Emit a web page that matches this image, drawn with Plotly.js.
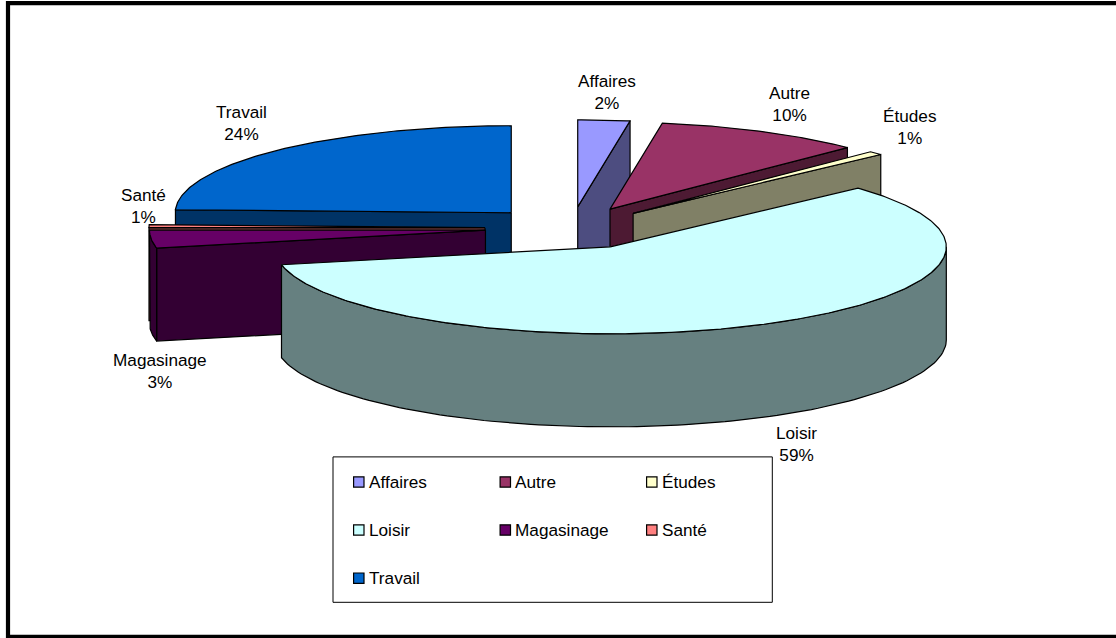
<!DOCTYPE html>
<html>
<head>
<meta charset="utf-8">
<style>html,body{margin:0;padding:0;background:#fff;overflow:hidden}#chart{width:1116px;height:638px}</style>
<script src="https://cdn.plot.ly/plotly-3.0.1.min.js"></script>
</head>
<body>
<div id="chart"></div>
<script>
// Data (share of total, in %)
var categories = ['Affaires', 'Autre', 'Études', 'Loisir', 'Magasinage', 'Santé', 'Travail'];
var shares = [2.49, 10, 0.7, 58.51, 3.3, 0.55, 24.45];

// Styles
var topColors = ['#9999FF', '#993366', '#FFFFCC', '#CCFFFF', '#660066', '#FF8080', '#0066CC'];
var wallColors = ['#4D4D80', '#4D1A33', '#808066', '#668080', '#330033', '#804040', '#003366'];

// Back-to-front painting order
var paintOrder = [6, 5, 4, 0, 1, 2, 3];

// Pie projection (axis units = pixels)
var pie = {cx: 571, cy: 228, rx: 336, ry: 87, depth: 93, explodeX: 86, explodeY: 21.2};

// Data label placement (centre of the two text lines), same order as categories
var labelX = [606.7, 789.3, 910, 796, 160, 143.3, 241.7];
var labelY = [92, 103.7, 126.7, 444, 371, 205.5, 122.8];

// Legend layout
var legendBox = {x0: 333, y0: 456.9, x1: 772.3, y1: 602.3};
var legendColX = [358.8, 505.3, 651.8];
var legendRowY = [482, 530, 578.2];
var legendTextGap = 8;
var FONT = 'Liberation Sans, Arial, sans-serif';

function rad(d) { return d * Math.PI / 180; }
function project(apex, deg, drop) {
  return [apex[0] + pie.rx * Math.sin(rad(deg)), apex[1] - pie.ry * Math.cos(rad(deg)) + (drop || 0)];
}
function face(pts, fill, name) {
  var xs = pts.map(function (p) { return p[0]; });
  var ys = pts.map(function (p) { return p[1]; });
  xs.push(xs[0]); ys.push(ys[0]);
  return {
    type: 'scatter', mode: 'lines', x: xs, y: ys, fill: 'toself', fillcolor: fill,
    line: {color: '#000', width: 1.2, shape: 'linear'}, hoverinfo: 'text', text: name,
    showlegend: false
  };
}

var total = shares.reduce(function (a, b) { return a + b; }, 0);
var startAngles = [], acc = 0;
shares.forEach(function (v) { startAngles.push(acc / total * 360); acc += v; });

var traces = [];
paintOrder.forEach(function (i) {
  var a0 = startAngles[i];
  var a1 = a0 + shares[i] / total * 360;
  var mid = (a0 + a1) / 2;
  var apex = [pie.cx + pie.explodeX * Math.sin(rad(mid)), pie.cy - pie.explodeY * Math.cos(rad(mid))];
  var name = categories[i];

  // Radial cut faces, only when turned to the viewer
  [[a0, Math.sin(rad(a0)) < -1e-6], [a1, Math.sin(rad(a1)) > 1e-6]].forEach(function (e) {
    if (!e[1]) return;
    var rim = project(apex, e[0]);
    traces.push(face([apex, rim, [rim[0], rim[1] + pie.depth], [apex[0], apex[1] + pie.depth]], wallColors[i], name));
  });

  // Outer curved wall (front half of the rim)
  var w0 = Math.max(a0, 90), w1 = Math.min(a1, 270);
  if (w1 > w0) {
    var upper = [], lower = [];
    for (var k = 0; k <= 120; k++) {
      var t = w0 + (w1 - w0) * k / 120;
      upper.push(project(apex, t));
      lower.unshift(project(apex, t, pie.depth));
    }
    traces.push(face(upper.concat(lower), wallColors[i], name));
  }

  // Top face
  var top = [apex], n = Math.max(4, Math.ceil((a1 - a0) * 1.5));
  for (var m = 0; m <= n; m++) top.push(project(apex, a0 + (a1 - a0) * m / n));
  traces.push(face(top, topColors[i], name));
});

// Legend swatches
var swatchX = [], swatchY = [];
categories.forEach(function (c, i) {
  swatchX.push(legendColX[i % 3]);
  swatchY.push(legendRowY[Math.floor(i / 3)]);
});
traces.push({
  type: 'scatter', mode: 'markers', x: swatchX, y: swatchY, showlegend: false, hoverinfo: 'skip',
  marker: {symbol: 'square', size: 10.4, color: topColors, line: {color: '#000', width: 1.2}}
});

var annotations = [];
categories.forEach(function (c, i) {
  annotations.push({
    xref: 'x', yref: 'y', x: labelX[i], y: labelY[i], showarrow: false,
    xanchor: 'center', yanchor: 'middle', align: 'center',
    text: c + '<br>' + Math.round(shares[i] / total * 100) + '%',
    font: {family: FONT, size: 17.2, color: '#000'}
  });
  annotations.push({
    xref: 'x', yref: 'y', x: swatchX[i] + legendTextGap, y: swatchY[i], showarrow: false,
    xanchor: 'left', yanchor: 'middle', xshift: 0, text: c,
    font: {family: FONT, size: 17.2, color: '#000'}
  });
});

var layout = {
  width: 1116, height: 638,
  margin: {l: 0, r: 0, t: 0, b: 0, pad: 0},
  paper_bgcolor: '#fff', plot_bgcolor: '#fff',
  showlegend: false,
  xaxis: {range: [0, 1116], visible: false, fixedrange: true},
  yaxis: {range: [638, 0], visible: false, fixedrange: true},
  annotations: annotations,
  shapes: [
    {type: 'rect', xref: 'x', yref: 'y', x0: 8, y0: 3.2, x1: 1130, y1: 636.8, layer: 'below',
     line: {color: '#000', width: 4.2}, fillcolor: 'rgba(0,0,0,0)'},
    {type: 'rect', xref: 'x', yref: 'y', x0: legendBox.x0, y0: legendBox.y0, x1: legendBox.x1, y1: legendBox.y1,
     layer: 'below', line: {color: '#000', width: 1}, fillcolor: '#fff'}
  ]
};

Plotly.newPlot('chart', traces, layout, {displayModeBar: false, responsive: false});
</script>
</body>
</html>
